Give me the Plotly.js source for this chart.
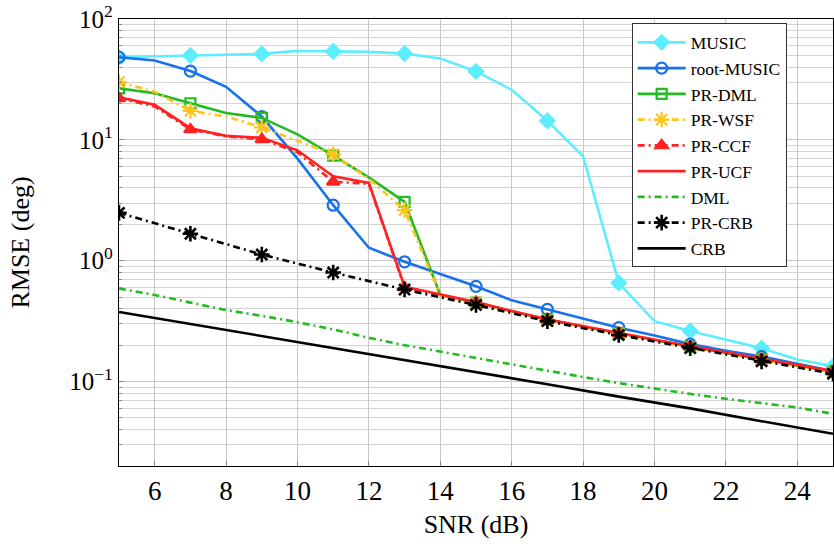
<!DOCTYPE html>
<html><head><meta charset="utf-8">
<script src="https://cdn.plot.ly/plotly-3.0.1.min.js"></script>
<style>body{margin:0;background:#fff}</style>
</head><body><div id="chart" style="width:834px;height:554px"></div>
<script>
// SNR (dB), every integer 5..25
const snr = [5,6,7,8,9,10,11,12,13,14,15,16,17,18,19,20,21,22,23,24,25];
const snrOdd = [5,7,9,11,13,15,17,19,21,23,25];

const music     = [48.3,49.0,49.9,51.0,51.5,54.5,54.0,53.5,51.8,47.1,36.9,26.0,14.4,7.3,0.653,0.316,0.262,0.221,0.189,0.152,0.134];
const rootMusic = [48.3,45.4,37.1,27.5,15.6,7.0,2.88,1.28,0.98,0.773,0.614,0.47,0.396,0.33,0.279,0.24,0.204,0.18,0.161,0.14,0.122];
const prDml     = [26.7,24.3,20.1,16.7,15.2,11.1,7.4,4.9,3.07,0.52,0.45,0.38,0.325,0.285,0.25,0.22,0.194,0.172,0.152,0.135,0.12];
const prWsf     = [30.2,25.0,17.4,15.6,12.7,9.8,7.6,4.76,2.62,0.52,0.448,0.379,0.324,0.284,0.249,0.219,0.193,0.171,0.151,0.134,0.119];
const prCcf     = [22.1,18.9,12.2,10.7,10.1,7.9,4.5,4.33,0.60,0.52,0.452,0.381,0.326,0.286,0.251,0.221,0.195,0.173,0.153,0.136,0.121];
const prUcf     = [22.5,19.5,12.5,10.8,10.4,8.2,5.0,4.4,0.61,0.525,0.455,0.383,0.327,0.287,0.252,0.222,0.196,0.174,0.154,0.137,0.122];
const dml       = [0.59,0.52,0.45,0.39,0.35,0.31,0.27,0.23,0.20,0.177,0.155,0.138,0.123,0.109,0.097,0.087,0.079,0.072,0.066,0.061,0.054];
const prCrb     = [2.49,1.67,1.125,0.798,0.577,0.43,0.316,0.243,0.189,0.147,0.116]; // at snrOdd
const crb       = [0.377,0.30,0.238,0.19,0.15,0.12,0.095,0.075,0.06,0.047,0.037]; // at snrOdd

const yTickVals = [0.1,1,10,100];
const yTickText = ['10<sup>−1</sup>','10<sup>0</sup>','10<sup>1</sup>','10<sup>2</sup>'];

const odd = arr => arr.filter((v,i)=>i%2===0);
const FONT = 'Liberation Serif, Times New Roman, serif';
const LW = 2.6;
const DD = '7px,4px,2px,4px';

const traces = [];
function addSeries(name, y, color, dash, sym, size) {
  traces.push({x: snr, y: y, mode:'lines', line:{color, width:LW, dash}, showlegend:false, hoverinfo:'skip'});
  const mk = {symbol: sym, size, color: color, line:{color, width: 2.2}};
  traces.push({x: odd(snr), y: odd(y), mode:'markers', marker: mk, showlegend:false, hoverinfo:'skip'});
  traces.push({x:[null], y:[null], mode:'lines+markers', name, line:{color, width:LW, dash}, marker: mk});
}
addSeries('MUSIC', music, '#5CEEFF', 'solid', 'diamond', 11);
addSeries('root-MUSIC', rootMusic, '#1872EC', 'solid', 'circle-open', 11);
addSeries('PR-DML', prDml, '#22BB22', 'solid', 'square-open', 10);
addSeries('PR-WSF', prWsf, '#FFC41A', DD, 'asterisk-open', 13);
addSeries('PR-CCF', prCcf, '#FF2222', DD, 'triangle-up', 11);
traces.push({x: snr, y: prUcf, mode:'lines', name:'PR-UCF', line:{color:'#FF2222', width:LW}});
traces.push({x: snr, y: dml, mode:'lines', name:'DML', line:{color:'#22BB22', width:LW, dash:DD}});
traces.push({x: snrOdd, y: prCrb, mode:'lines+markers', name:'PR-CRB', line:{color:'#000', width:LW, dash:DD},
  marker:{symbol:'asterisk-open', size:13, color:'#000', line:{color:'#000', width:2.6}}});
traces.push({x: snrOdd, y: crb, mode:'lines', name:'CRB', line:{color:'#000', width:LW}});

const minorVals = [];
for (let e = -2; e <= 1; e++) for (let d = 2; d <= 9; d++) minorVals.push(d * Math.pow(10, e));

const layout = {
  width: 834, height: 554,
  margin: {l:119, r:1, t:19, b:88},
  paper_bgcolor:'#fff', plot_bgcolor:'#fff',
  font: {family: FONT, color:'#000'},
  showlegend: true,
  xaxis: {
    range:[5,25], tickvals:[6,8,10,12,14,16,18,20,22,24],
    showgrid:true, gridcolor:'#c8c8c8', gridwidth:1,
    showline:true, linecolor:'#000', linewidth:1.2, mirror:true,
    ticks:'inside', ticklen:5, tickcolor:'#888',
    tickfont:{size:27, family:FONT}, zeroline:false,
    title:{text:'SNR (dB)', font:{size:26, family:FONT}, standoff:10}
  },
  yaxis: {
    type:'log', range:[Math.log10(0.02), 2.0005],
    tickvals:yTickVals, ticktext:yTickText, ticklabeloverflow:'allow',
    showgrid:true, gridcolor:'#c8c8c8', gridwidth:1,
    showline:true, linecolor:'#000', linewidth:1.2, mirror:true,
    ticks:'inside', ticklen:5, tickcolor:'#888',
    minor:{tickvals:minorVals, showgrid:true, gridcolor:'#d4d4d4', ticks:'inside', ticklen:3, tickcolor:'#888'},
    tickfont:{size:25, family:FONT}, zeroline:false,
    title:{text:'RMSE (deg)', font:{size:26, family:FONT}, standoff:32}
  },
  legend: {
    x:0.718, y:0.99, xanchor:'left', yanchor:'top',
    bgcolor:'#fff', bordercolor:'#333', borderwidth:1,
    font:{size:17.5, family:FONT}, itemwidth:48, tracegroupgap:0
  }
};
Plotly.newPlot('chart', traces, layout, {displayModeBar:false, staticPlot:true});
</script></body></html>
